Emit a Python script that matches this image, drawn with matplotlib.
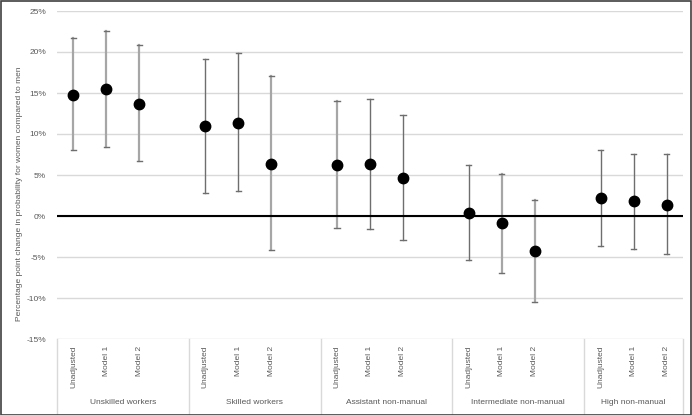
import matplotlib.pyplot as plt
from matplotlib.patches import Rectangle

plt.rcParams['font.family'] = ['Liberation Sans', 'DejaVu Sans']

# groups and models along the category axis
groups = ["Unskilled workers", "Skilled workers", "Assistant non-manual",
          "Intermediate non-manual", "High non-manual"]
models = ["Unadjusted", "Model 1", "Model 2"]

# point estimates and 95% interval ends, in percent (group by group)
est = [14.7, 15.5, 13.6,
       11.0, 11.4, 6.4,
       6.2, 6.3, 4.6,
       0.4, -0.9, -4.3,
       2.2, 1.8, 1.4]
low = [8.0, 8.4, 6.7,
       2.8, 3.1, -4.2,
       -1.5, -1.6, -2.9,
       -5.4, -6.9, -10.5,
       -3.6, -4.0, -4.6]
high = [21.7, 22.6, 20.8,
        19.2, 19.9, 17.1,
        14.0, 14.3, 12.3,
        6.2, 5.1, 1.9,
        8.1, 7.6, 7.5]

# the picture draws some whiskers lighter than others
light = [1, 1, 1,
         0, 0, 1,
         1, 0, 0,
         0, 1, 1,
         0, 0, 0]

yticks = [-15, -10, -5, 0, 5, 10, 15, 20, 25]

W, H = 692, 415
fig = plt.figure(figsize=(W / 100, H / 100), dpi=100)
ax = fig.add_axes([57 / W, 1 - 339 / H, 626 / W, 328 / H])

grey = "#595959"
# slot positions: 3 models per group plus one empty slot between groups
xs = [g * 4 + m for g in range(len(groups)) for m in range(len(models))]

for i, x in enumerate(xs):
    c = "#a6a6a6" if light[i] else "#6e6e6e"
    lw = 1.6 if light[i] else 1.0
    ax.plot([x, x], [low[i], high[i]], color=c, lw=lw, zorder=2)
    ax.plot([x - 0.08, x + 0.08], [low[i]] * 2, color="#6e6e6e", lw=1.0, zorder=2)
    ax.plot([x - 0.08, x + 0.08], [high[i]] * 2, color="#6e6e6e", lw=1.0, zorder=2)
ax.plot(xs, est, 'o', color="black", ms=7.5, zorder=4, linestyle="none")

ax.axhline(0, color="black", lw=1.5, zorder=3)
ax.set_xlim(-0.5, 18.5)
ax.set_ylim(-15, 25)
ax.set_yticks(yticks)
ax.set_yticklabels([f"{t}%" for t in yticks])
ax.tick_params(axis="y", length=0, labelsize=6, labelcolor=grey, pad=8)
ax.set_xticks([])
ax.grid(axis="y", color="#d9d9d9", lw=1.0, zorder=0)
ax.set_axisbelow(True)
for s in ax.spines.values():
    s.set_visible(False)

# category axis: model labels, group labels and separators
tr = ax.get_xaxis_transform()
for i, x in enumerate(xs):
    ax.text(x, -0.02, models[i % 3], rotation=90, ha="center", va="top",
            fontsize=6, color=grey, transform=tr)
for g, name in enumerate(groups):
    left = g * 4 - 0.5
    right = min(g * 4 + 3.5, 18.5)
    ax.text((left + right) / 2, -0.195, name, ha="center", va="center",
            fontsize=6, color=grey, transform=tr)
for sep in [-0.5, 3.5, 7.5, 11.5, 15.5, 18.5]:
    ax.plot([sep, sep], [0, -0.23], color="#d9d9d9", lw=1.0, transform=tr,
            clip_on=False)

fig.text(20 / W, 1 - 194 / H,
         "Percentage point change in probability for women compared to men",
         rotation=90, ha="center", va="center", fontsize=6, color=grey)

fig.add_artist(Rectangle((0.5 / W, 0.5 / H), 1 - 1.5 / W, 1 - 1.5 / H,
                         transform=fig.transFigure, fill=False,
                         edgecolor="#404040", lw=1.2))

fig.savefig("out.png", dpi=100)
